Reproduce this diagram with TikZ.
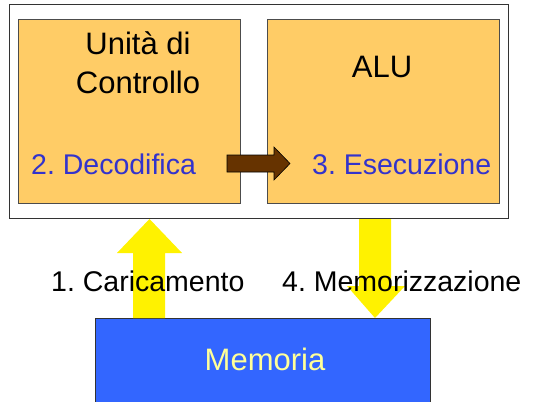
\documentclass[tikz,border=0pt]{standalone}
\usepackage{fontspec}
\setmainfont{Liberation Sans}
\definecolor{boxorange}{HTML}{FFCC66}
\definecolor{memblue}{HTML}{3366FF}
\definecolor{memtext}{HTML}{FFFF99}
\definecolor{steptext}{HTML}{3333CC}
\definecolor{brownarrow}{HTML}{663300}
\frenchspacing
\begin{document}
\begin{tikzpicture}[x=1pt,y=-1pt,
  unitbox/.style={draw=black!70,line width=0.8pt,fill=boxorange},
  lbl/.style={inner sep=0pt,font=\fontsize{28.5}{30}\selectfont},
  big/.style={inner sep=0pt,font=\fontsize{31}{33}\selectfont},
  yarrow/.style={fill=yellow,draw=none}]
\useasboundingbox (0,0) rectangle (537,401);
% outer frame
\draw[black!80,line width=0.8pt,fill=white] (9,4) rectangle (508,218);
% units
\draw[unitbox] (18,19) rectangle (240,203);
\draw[unitbox] (267,19) rectangle (499,203);
\node[big,anchor=base] (t1) at (138,55) {Unità di};
\node[big,anchor=base] (t2) at (138,94) {Controllo};
\node[big,anchor=base] (t3) at (382,78) {ALU};
\node[lbl,anchor=base west,text=steptext] (dec) at (31,174) {2. Decodifica};
\node[lbl,anchor=base west,text=steptext] (ese) at (312,174) {3. Esecuzione};
% brown arrow
\draw[fill=brownarrow,draw=black,line width=0.6pt]
  (227,155) -- (274,155) -- (274,147) -- (290,163.5) -- (274,180) -- (274,172) -- (227,172) -- cycle;
% memory
\draw[fill=memblue,draw=black!80,line width=0.8pt] (95,318) rectangle (430,410);
\node[big,anchor=base,text=memtext] (mem) at (265,370) {Memoria};
% yellow arrows
\fill[yarrow] (133,318) -- (133,253) -- (117,253) -- (149.5,219) -- (182,253) -- (165,253) -- (165,318) -- cycle;
\fill[yarrow] (359,219) -- (391,219) -- (391,286) -- (405,286) -- (375,318) -- (347,286) -- (359,286) -- cycle;
% labels
\node[lbl,anchor=base west] (car) at (51,291) {1. Caricamento};
\node[lbl,anchor=base west] (memo) at (282,291) {4. Memorizzazione};
\end{tikzpicture}
\end{document}
